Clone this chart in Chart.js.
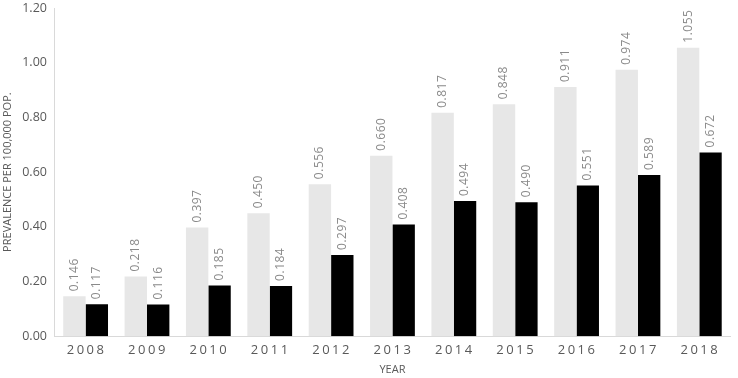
<!DOCTYPE html>
<html>
<head>
<meta charset="utf-8">
<script src="https://cdn.jsdelivr.net/npm/chart.js@4.4.1/dist/chart.umd.min.js"></script>
<style>
  html,body{margin:0;padding:0;background:#fff;}
  #wrap{width:738px;height:378px;position:relative;}
</style>
</head>
<body>
<div id="wrap"><canvas id="prev-chart"></canvas></div>
<script>
const years=['2008','2009','2010','2011','2012','2013','2014','2015','2016','2017','2018'];
const seriesLight=[0.146,0.218,0.397,0.450,0.556,0.660,0.817,0.848,0.911,0.974,1.055];
const seriesDark=[0.117,0.116,0.185,0.184,0.297,0.408,0.494,0.490,0.551,0.589,0.672];
const yTicks=[0,0.2,0.4,0.6,0.8,1.0,1.2];

const FONT='"Open Sans", sans-serif';

// rotated value labels above each bar
const barLabels={
  id:'barLabels',
  afterDatasetsDraw(chart){
    const ctx=chart.ctx;
    ctx.save();
    ctx.font='12px '+FONT;
    ctx.fillStyle='#8a8a8a';
    ctx.textAlign='left';
    ctx.textBaseline='middle';
    try{ctx.letterSpacing='0.5px';}catch(e){}
    chart.data.datasets.forEach((ds,di)=>{
      chart.getDatasetMeta(di).data.forEach((bar,i)=>{
        ctx.save();
        ctx.translate(bar.x,bar.y-5);
        ctx.rotate(-Math.PI/2);
        ctx.fillText(ds.data[i].toFixed(3),0,0);
        ctx.restore();
      });
    });
    ctx.restore();
  }
};

// spaced-out year labels under the axis
const yearLabels={
  id:'yearLabels',
  afterDraw(chart){
    const ctx=chart.ctx, sx=chart.scales.x;
    ctx.save();
    ctx.font='13px '+FONT;
    ctx.fillStyle='#595959';
    ctx.textAlign='center';
    ctx.textBaseline='middle';
    try{ctx.letterSpacing='2.5px';}catch(e){}
    years.forEach((y,i)=>{
      ctx.fillText(y,sx.getPixelForTick(i)+1,chart.chartArea.bottom+14);
    });
    ctx.restore();
  }
};

new Chart(document.getElementById('prev-chart'),{
  type:'bar',
  data:{
    labels:years,
    datasets:[
      {label:'A',data:seriesLight,backgroundColor:'#e7e7e7',borderWidth:0},
      {label:'B',data:seriesDark,backgroundColor:'#000000',borderWidth:0}
    ]
  },
  options:{
    responsive:true,
    maintainAspectRatio:false,
    animation:false,
    layout:{padding:{top:8,right:8,left:1,bottom:0}},
    datasets:{bar:{categoryPercentage:0.73,barPercentage:1.0}},
    plugins:{legend:{display:false},tooltip:{enabled:false}},
    scales:{
      x:{
        grid:{display:false,drawTicks:false},
        border:{display:true,color:'#d9d9d9',width:1},
        ticks:{color:'rgba(0,0,0,0)',font:{family:FONT,size:13},padding:3},
        title:{display:true,text:'YEAR',color:'#595959',font:{family:FONT,size:11},padding:{top:5,bottom:2}}
      },
      y:{
        min:0,max:1.2,
        afterBuildTicks(scale){scale.ticks=yTicks.map(v=>({value:v}));},
        afterFit(scale){scale.paddingTop=0;scale.paddingBottom=0;},
        grid:{display:false,drawTicks:false},
        border:{display:true,color:'#d9d9d9',width:1},
        ticks:{color:'#595959',font:{family:FONT,size:12.5},padding:8,callback:v=>v.toFixed(2)},
        title:{display:true,text:'PREVALENCE PER 100,000 POP.',color:'#595959',font:{family:FONT,size:11},padding:{top:0,bottom:0}}
      }
    }
  },
  plugins:[barLabels,yearLabels]
});
</script>
</body>
</html>
